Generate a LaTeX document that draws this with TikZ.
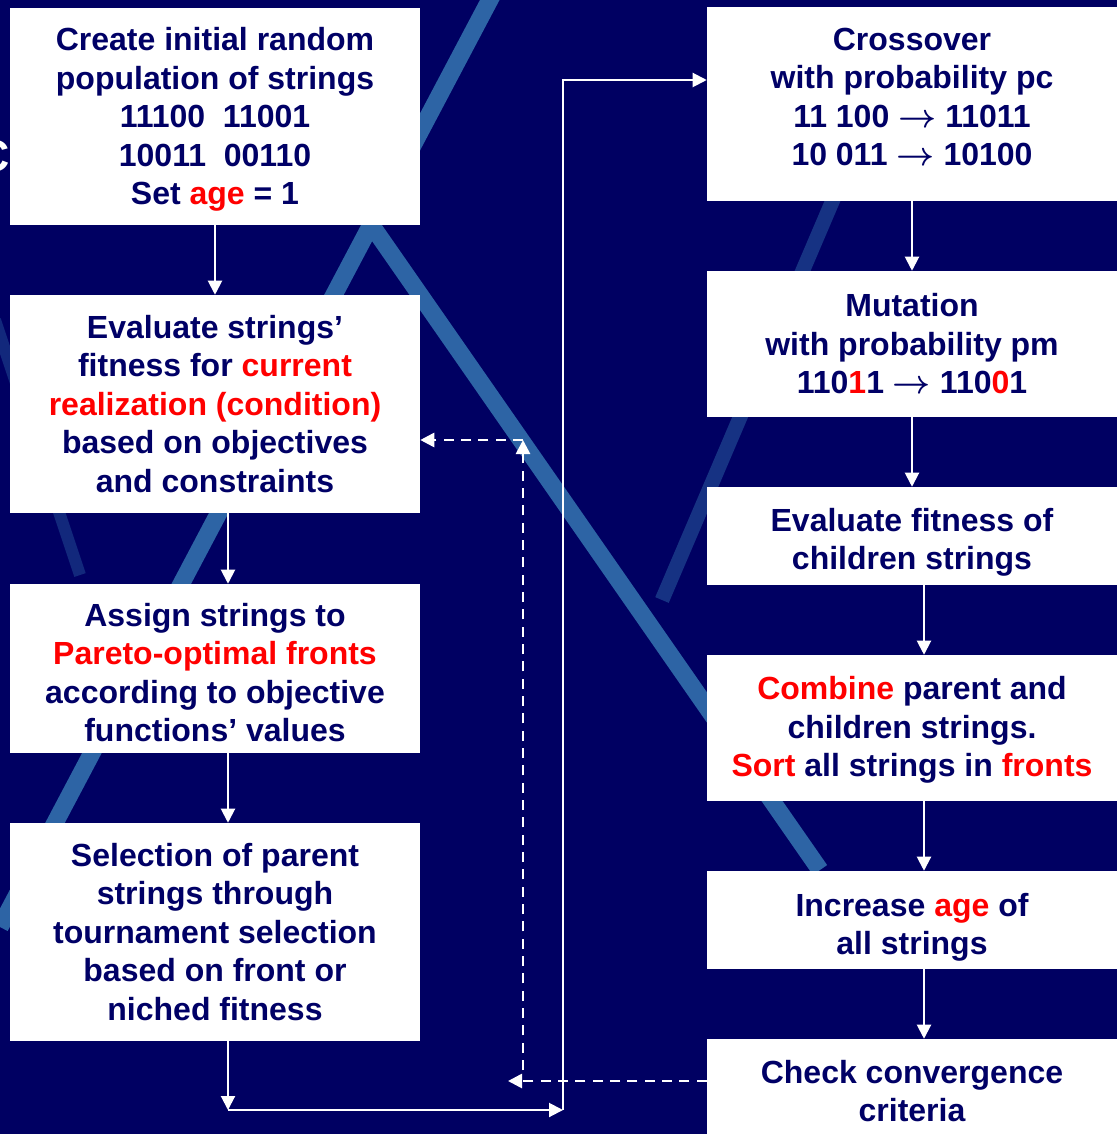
\documentclass[tikz,border=0pt]{standalone}
\usepackage{fontspec}
\setmainfont{Liberation Sans}
\usetikzlibrary{arrows.meta}

\definecolor{navybg}{RGB}{0,0,98}
\definecolor{navytxt}{RGB}{0,0,102}
\definecolor{streakblue}{RGB}{45,100,165}
\newcommand{\hl}[1]{\textcolor{red}{#1}}
\newcommand{\arr}{\mbox{\boldmath$\rightarrow$}}
% invisible struts that nudge a box's text down (first line) or up (last line)
\newcommand{\dn}[1]{\rule{0pt}{#1}}
\newcommand{\upby}[1]{\rule[-#1]{0pt}{0pt}}

\tikzset{
  box/.style={fill=white, text=navytxt, align=center, inner sep=0pt,
    minimum width=307.5pt, font=\fontsize{24}{28.9}\selectfont\bfseries},
  flow/.style={draw=white, line width=1.5pt, -{Triangle[length=10.5pt, width=10.5pt]}},
  fb/.style={flow, line width=2pt, dash pattern=on 7.5pt off 5.5pt},
  streak/.style={draw=streakblue, line width=13pt, line cap=butt},
}

\begin{document}
\begin{tikzpicture}[x=0.75pt, y=-0.75pt]
      \useasboundingbox (0,0) rectangle (1117,1134);
      \clip (0,0) rectangle (1117,1134);
      \fill[navybg] (0,0) rectangle (1117,1134);

      % background streaks
      \draw[streak] (495,-10) -- (0,927);
      \draw[streak] (354,200) -- (820,870);
      \draw[streak, line width=11pt, opacity=0.5] (850,160) -- (662,600);
      \draw[streak, line width=9pt, opacity=0.4] (-5,320) -- (80,575);
      \node[anchor=east, inner sep=0pt, text=white, font=\fontsize{33.5}{40}\selectfont\bfseries] (ttl) at (10,156) {C};

      % left column
      \node[box, minimum height=162.75pt] (init)   at (215,116.5) {\dn{22.1pt}Create initial random\\population of strings\\11100\ \ 11001\\10011\ \ 00110\\Set \hl{age} = 1};
      \node[box, minimum height=163.5pt]  (eval)   at (215,404)   {Evaluate strings’\\fitness for \hl{current}\\\hl{realization (condition)}\\based on objectives\\and constraints};
      \node[box, minimum height=126.75pt] (assign) at (215,668.5) {\dn{23.6pt}Assign strings to\\\hl{Pareto-optimal fronts}\\according to objective\\functions’ values};
      \node[box, minimum height=163.5pt]  (select) at (215,932)   {Selection of parent\\strings through\\tournament selection\\based on front or\\niched fitness};

      % right column
      \node[box, minimum height=145.5pt] (cross)    at (912,104)  {Crossover\\with probability pc\\11 100 \arr{} 11011\\10 011 \arr{} 10100\upby{10.8pt}};
      \node[box, minimum height=109.5pt] (mutate)   at (912,344)  {Mutation\\with probability pm\\110\hl{1}1 \arr{} 110\hl{0}1};
      \node[box, minimum height=73.5pt]  (evalkids) at (912,536)  {\dn{26.6pt}Evaluate fitness of\\children strings};
      \node[box, minimum height=109.5pt] (combine)  at (912,728)  {\dn{20.6pt}\hl{Combine} parent and\\children strings.\\\hl{Sort} all strings in \hl{fronts}};
      \node[box, minimum height=73.5pt]  (age)      at (912,920)  {\dn{28.1pt}Increase \hl{age} of\\all strings};
      \node[box, minimum height=78pt]    (check)    at (912,1091) {Check convergence\\criteria};

      \coordinate (j1) at (228,1110);
      \coordinate (j2) at (563,1110);
      \coordinate (j3) at (563,80);
      \coordinate (d1) at (508,1081);
      \coordinate (d2) at (523,1070);
      \coordinate (d3) at (523,440);

      \draw[flow] (init) -- (eval);
      \draw[flow] (eval.south -| 228,0) -- (assign.north -| 228,0);
      \draw[flow] (assign.south -| 228,0) -- (select.north -| 228,0);
      \draw[flow] (select.south -| j1) -- (j1);
      \draw[flow] (j1) -- (j2);
      \draw[flow] (j2) -- (j3) -- (cross.west |- j3);

      \draw[flow] (cross) -- (mutate);
      \draw[flow] (mutate) -- (evalkids);
      \draw[flow] (evalkids.south -| 924,0) -- (combine.north -| 924,0);
      \draw[flow] (combine.south -| 924,0) -- (age.north -| 924,0);
      \draw[flow] (age.south -| 924,0) -- (check.north -| 924,0);

      \draw[fb] (check.west |- d1) -- (d1);
      \draw[fb] (d2) -- (d3);
      \draw[fb] (d3) -- (eval.east |- d3);
    \end{tikzpicture}
\end{document}
